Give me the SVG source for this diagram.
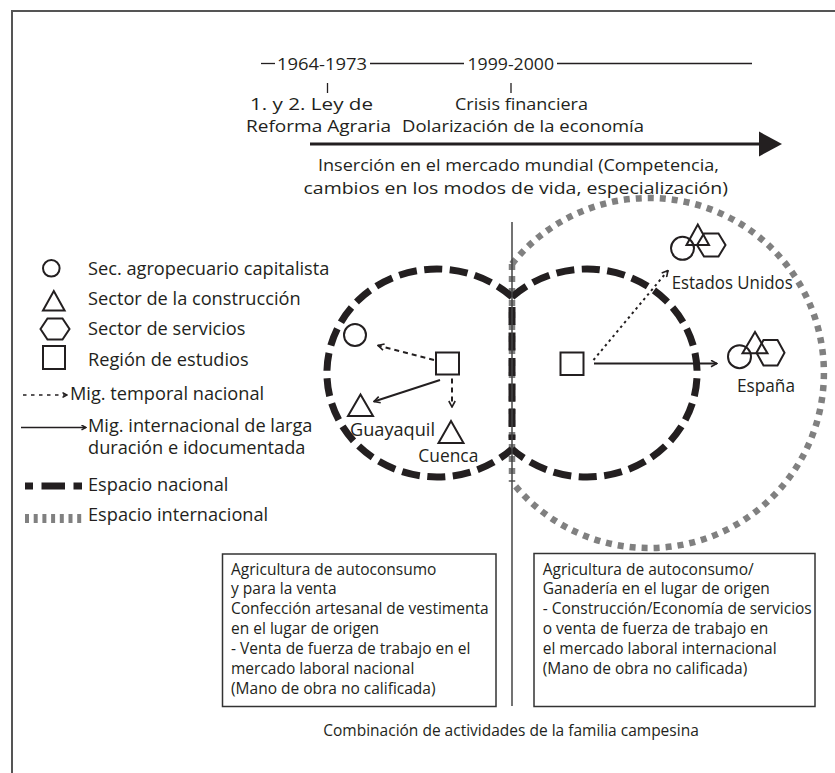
<svg xmlns="http://www.w3.org/2000/svg" width="835" height="773" viewBox="0 0 835 773">
<defs>
<style>
text{font-family:"Open Sans","Noto Sans","DejaVu Sans",sans-serif;fill:#231f20}
.top{font-size:16.5px}
.leg{font-size:18.2px}
.lab{font-size:17.3px}
.box{font-size:15.5px}
.ol{fill:none;stroke:#231f20;stroke-width:2}
.thin{fill:none;stroke:#231f20;stroke-width:1.3}
.nat{fill:none;stroke:#231f20;stroke-width:7;stroke-dasharray:18 7.5}
.intl{fill:none;stroke:#808080;stroke-width:6.5;stroke-dasharray:6 6}
.dash{fill:none;stroke:#231f20;stroke-width:2;stroke-dasharray:5 4}
.dot{fill:none;stroke:#231f20;stroke-width:2;stroke-dasharray:2.5 3.5}
.solid{fill:none;stroke:#231f20;stroke-width:2}
.frame{fill:none;stroke:#555;stroke-width:2}
.bx{fill:none;stroke:#333;stroke-width:1.5}
</style>
<marker id="chev" viewBox="0 0 10 10" refX="9" refY="5" markerWidth="8" markerHeight="8" markerUnits="userSpaceOnUse" orient="auto">
<path d="M1.5,1 L9,5 L1.5,9" fill="none" stroke="#231f20" stroke-width="2"/>
</marker>
<marker id="chevs" viewBox="0 0 10 10" refX="9" refY="5" markerWidth="6" markerHeight="6" markerUnits="userSpaceOnUse" orient="auto">
<path d="M1.5,1 L9,5 L1.5,9" fill="none" stroke="#231f20" stroke-width="2.5"/>
</marker>
</defs>
<rect width="835" height="773" fill="#fff"/>
<path class="frame" d="M12,773 L12,11 L835,11"/>

<g id="timeline">
<line class="thin" x1="261" y1="63.5" x2="275" y2="63.5"/>
<text class="top" x="277" y="69.5" textLength="90" lengthAdjust="spacingAndGlyphs">1964-1973</text>
<line class="thin" x1="370" y1="63.5" x2="464" y2="63.5"/>
<text class="top" x="467.5" y="69.5" textLength="86.5" lengthAdjust="spacingAndGlyphs">1999-2000</text>
<line class="thin" x1="557" y1="63.5" x2="752" y2="63.5"/>
<line class="thin" x1="327.5" y1="83" x2="327.5" y2="93"/>
<line class="thin" x1="511" y1="83" x2="511" y2="93"/>
<text class="top" x="250" y="110" textLength="123" lengthAdjust="spacingAndGlyphs">1. y 2. Ley de</text>
<text class="top" x="246" y="131.5" textLength="145" lengthAdjust="spacingAndGlyphs">Reforma Agraria</text>
<text class="top" x="455" y="110" textLength="133" lengthAdjust="spacingAndGlyphs">Crisis financiera</text>
<text class="top" x="402" y="131.5" textLength="242" lengthAdjust="spacingAndGlyphs">Dolarización de la economía</text>
<line x1="310" y1="144" x2="762" y2="144" stroke="#231f20" stroke-width="3.2"/>
<polygon points="759,131.5 782,144 759,156.5" fill="#231f20"/>
<text class="top" x="318" y="171" textLength="401" lengthAdjust="spacingAndGlyphs">Inserción en el mercado mundial (Competencia,</text>
<text class="top" x="303.5" y="193.5" textLength="424.5" lengthAdjust="spacingAndGlyphs">cambios en los modos de vida, especialización)</text>
</g>

<g id="legend">
<circle class="ol" cx="51.3" cy="268.3" r="8.3"/>
<text class="leg" x="88" y="275">Sec. agropecuario capitalista</text>
<polygon class="ol" points="43,310.5 53.8,291 64.6,310.5"/>
<text class="leg" x="88" y="305">Sector de la construcción</text>
<polygon class="ol" points="40.5,329 47.5,318.5 62.5,318.5 69.5,329 62.5,339.5 47.5,339.5"/>
<text class="leg" x="88" y="334.5">Sector de servicios</text>
<rect class="ol" x="43" y="346" width="22" height="23"/>
<text class="leg" x="88" y="366">Región de estudios</text>
<line class="dash" x1="23" y1="395" x2="67" y2="395" style="stroke-width:1.6;stroke-dasharray:3.5 4.5" marker-end="url(#chevs)"/>
<text class="leg" x="70" y="400">Mig. temporal nacional</text>
<line class="solid" x1="21" y1="427.5" x2="86" y2="427.5" style="stroke-width:1.6" marker-end="url(#chevs)"/>
<text class="leg" x="88" y="432">Mig. internacional de larga</text>
<text class="leg" x="88" y="454">duración e idocumentada</text>
<g fill="#231f20">
<rect x="25" y="482.5" width="8" height="7"/>
<rect x="41.5" y="482.5" width="23.5" height="7"/>
<rect x="73.5" y="482.5" width="8.5" height="7"/>
</g>
<text class="leg" x="88" y="490.5">Espacio nacional</text>
<g fill="#808080">
<rect x="25" y="514" width="4" height="9"/>
<rect x="33.7" y="514" width="4" height="9"/>
<rect x="42.4" y="514" width="4" height="9"/>
<rect x="51.1" y="514" width="4" height="9"/>
<rect x="59.8" y="514" width="4" height="9"/>
<rect x="68.5" y="514" width="4" height="9"/>
<rect x="77.2" y="514" width="4" height="9"/>
</g>
<text class="leg" x="88" y="520.5">Espacio internacional</text>
</g>

<g id="espacio-internacional">
<path class="intl" d="M512,264 A175,175 0 1,1 512,482"/>
<line class="intl" x1="512" y1="264" x2="512" y2="482"/>
</g>
<g id="espacio-nacional-izq">
<path class="nat" d="M512,297 A110,104 0 1,0 512,449"/>
</g>
<g id="espacio-nacional-der">
<path class="nat" d="M512,297 A110,104 0 1,1 512,449"/>
</g>
<line class="nat" x1="512" y1="307" x2="512" y2="440"/>
<line id="divisor" x1="512" y1="222" x2="512" y2="706" stroke="#444" stroke-width="1.5"/>

<g id="nodos-nacional">
<circle class="ol" cx="355" cy="335" r="11"/>
<rect class="ol" x="436" y="352.5" width="23" height="22"/>
<polygon class="ol" points="348,416 360.5,394.5 373,416"/>
<text class="lab" x="350" y="435.5" textLength="85" lengthAdjust="spacingAndGlyphs">Guayaquil</text>
<polygon class="ol" points="438.5,443 451,421 463.5,443"/>
<text class="lab" x="418.3" y="462" textLength="60" lengthAdjust="spacingAndGlyphs">Cuenca</text>
</g>

<g id="nodos-internacional">
<rect class="ol" x="560.5" y="352.5" width="23" height="22.5"/>
<g id="estados-unidos">
<circle class="ol" cx="682.5" cy="248.3" r="11.5"/>
<polygon class="ol" points="686.5,245 697.8,224.5 709,245"/>
<polygon class="ol" points="697,245 704,233.5 718.5,233.5 725.5,245 718.5,256.5 704,256.5"/>
<text class="lab" x="671.7" y="289" textLength="121" lengthAdjust="spacingAndGlyphs">Estados Unidos</text>
</g>
<g id="espana">
<circle class="ol" cx="739.5" cy="356.7" r="11.5"/>
<polygon class="ol" points="742.5,353.3 755,332 767.5,353.3"/>
<polygon class="ol" points="756.5,352.7 763.5,340 777.5,340 784.5,352.7 777.5,365.4 763.5,365.4"/>
<text class="lab" x="737" y="391.5" textLength="58" lengthAdjust="spacingAndGlyphs">España</text>
</g>
</g>

<g id="conectores">
<line class="dash" x1="434" y1="360" x2="378" y2="345.5" marker-end="url(#chev)"/>
<line class="solid" x1="440" y1="380" x2="374" y2="401.5" marker-end="url(#chev)"/>
<line class="dash" x1="452" y1="378.5" x2="452" y2="407" marker-end="url(#chev)"/>
<line class="dot" x1="593.5" y1="360" x2="668" y2="270.5" marker-end="url(#chev)"/>
<line class="solid" x1="594" y1="363.5" x2="717" y2="363.5" marker-end="url(#chev)"/>
</g>

<g id="caja-nacional">
<rect class="bx" x="222.5" y="554" width="273.5" height="152.5"/>
<text class="box" x="231" y="574.5">Agricultura de autoconsumo</text>
<text class="box" x="231" y="594.4">y para la venta</text>
<text class="box" x="231" y="614.3">Confección artesanal de vestimenta</text>
<text class="box" x="231" y="634.2">en el lugar de origen</text>
<text class="box" x="231" y="654.1">- Venta de fuerza de trabajo en el</text>
<text class="box" x="231" y="674">mercado laboral nacional</text>
<text class="box" x="231" y="693.9">(Mano de obra no calificada)</text>
</g>
<g id="caja-internacional">
<rect class="bx" x="534" y="553.5" width="281" height="153"/>
<text class="box" x="542.7" y="574.5">Agricultura de autoconsumo/</text>
<text class="box" x="542.7" y="594.4">Ganadería en el lugar de origen</text>
<text class="box" x="542.7" y="614.3">- Construcción/Economía de servicios</text>
<text class="box" x="542.7" y="634.2">o venta de fuerza de trabajo en</text>
<text class="box" x="542.7" y="654.1">el mercado laboral internacional</text>
<text class="box" x="542.7" y="674">(Mano de obra no calificada)</text>
</g>
<text class="box" x="511" y="736" text-anchor="middle">Combinación de actividades de la familia campesina</text>
</svg>
